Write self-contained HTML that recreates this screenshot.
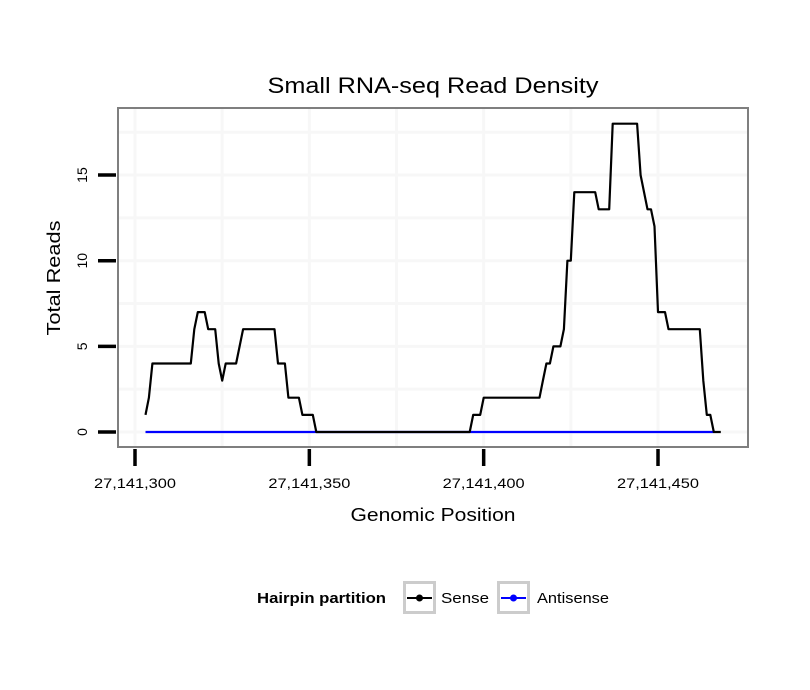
<!DOCTYPE html>
<html><head><meta charset="utf-8"><style>
html,body{margin:0;padding:0;background:#fff;}
svg{display:block;font-family:"Liberation Sans",sans-serif;}
</style></head><body>
<svg id="chart" width="810" height="690" viewBox="0 0 810 690">
<text x="433" y="93" font-size="22" text-anchor="middle" textLength="331" lengthAdjust="spacingAndGlyphs">Small RNA-seq Read Density</text>
<rect x="118" y="108" width="630" height="339" fill="#fff"/>
<g id="grid"></g>
<g id="series"></g>
<rect x="118" y="108" width="630" height="339" fill="none" stroke="#7f7f7f" stroke-width="2"/>
<g id="axes"></g>
<text x="433" y="521" font-size="18" text-anchor="middle" textLength="165" lengthAdjust="spacingAndGlyphs">Genomic Position</text>
<text transform="translate(60,278) rotate(-90)" font-size="18" text-anchor="middle" textLength="115" lengthAdjust="spacingAndGlyphs">Total Reads</text>
<g>
<text x="257" y="603" font-size="15" font-weight="bold" textLength="129" lengthAdjust="spacingAndGlyphs">Hairpin partition</text>
<g>
<rect x="404.5" y="582.5" width="30" height="30" fill="#fff" stroke="#ccc" stroke-width="3"/>
<line x1="407" y1="598" x2="432" y2="598" stroke="#000" stroke-width="2"/>
<circle cx="419.5" cy="598" r="3.5" fill="#000"/>
<text x="441" y="603" font-size="15" textLength="48" lengthAdjust="spacingAndGlyphs">Sense</text>
</g>
<g>
<rect x="498.5" y="582.5" width="30" height="30" fill="#fff" stroke="#ccc" stroke-width="3"/>
<line x1="501" y1="598" x2="526" y2="598" stroke="#00f" stroke-width="2"/>
<circle cx="513.5" cy="598" r="3.5" fill="#00f"/>
<text x="537" y="603" font-size="15" textLength="72" lengthAdjust="spacingAndGlyphs">Antisense</text>
</g>
</g>
</svg>
<script>
const positionBase = 27141000;
const sensePositions = [303,304,305,316,317,318,320,321,323,324,325,326,329,331,340,341,343,344,347,348,351,352,396,397,399,400,416,417,418,419,420,422,423,424,425,426,432,433,436,437,444,445,447,448,449,450,452,453,462,463,464,465,466,468];
const senseValues =    [1,2,4,4,6,7,7,6,6,4,3,4,4,6,6,4,4,2,2,1,1,0,0,1,1,2,2,3,4,4,5,5,6,10,10,14,14,13,13,18,18,15,13,13,12,7,7,6,6,3,1,1,0,0];
const antisensePositions = [303,466];
const antisenseValues = [0,0];
const xTicks = [27141300,27141350,27141400,27141450];
const xTickLabels = ["27,141,300","27,141,350","27,141,400","27,141,450"];
const yTicks = [0,5,10,15];
const yTickLabels = ["0","5","10","15"];
const xMinor = [27141325,27141375,27141425];
const yMinor = [2.5,7.5,12.5,17.5];

const NS="http://www.w3.org/2000/svg";
const xs = v => 135 + (v-27141300)*3.4867;
const ys = v => 432 - v*17.13;
function mk(tag,attrs,parent){const e=document.createElementNS(NS,tag);for(const k in attrs)e.setAttribute(k,attrs[k]);parent.appendChild(e);return e;}
const grid=document.getElementById('grid'), axes=document.getElementById('axes'), series=document.getElementById('series');
[...xTicks,...xMinor].forEach(v=>{const l=mk('line',{x1:xs(v),x2:xs(v),y1:109,y2:446,stroke:'#f7f7f7','stroke-width':3},grid);

});
[...yTicks,...yMinor].forEach(v=>{const l=mk('line',{x1:119,x2:747,y1:ys(v),y2:ys(v),stroke:'#f7f7f7','stroke-width':3},grid);

});
xTicks.forEach((v,i)=>{const t=mk('line',{x1:xs(v),x2:xs(v),y1:449,y2:466,stroke:'#000','stroke-width':3.5},axes);


const tx=mk('text',{x:xs(v),y:488,'font-size':14,'text-anchor':'middle',textLength:82,lengthAdjust:'spacingAndGlyphs'},axes);tx.textContent=xTickLabels[i];

});
yTicks.forEach((v,i)=>{const t=mk('line',{x1:98,x2:116,y1:ys(v),y2:ys(v),stroke:'#000','stroke-width':3.5},axes);


const tx=mk('text',{transform:`translate(87,${ys(v)}) rotate(-90)`,'font-size':14,'text-anchor':'middle'},axes);tx.textContent=yTickLabels[i];

});
function path(pos,vals,color,name){const d=vals.map((v,i)=>(i?'L':'M')+xs(positionBase+pos[i]).toFixed(1)+','+ys(v).toFixed(1)).join(' ');
const p=mk('path',{d:d,fill:'none',stroke:color,'stroke-width':2.2,'stroke-linejoin':'round'},series);

}
path(antisensePositions,antisenseValues,'#00f','antisense-line');
path(sensePositions,senseValues,'#000','sense-line');
</script>
</body></html>
